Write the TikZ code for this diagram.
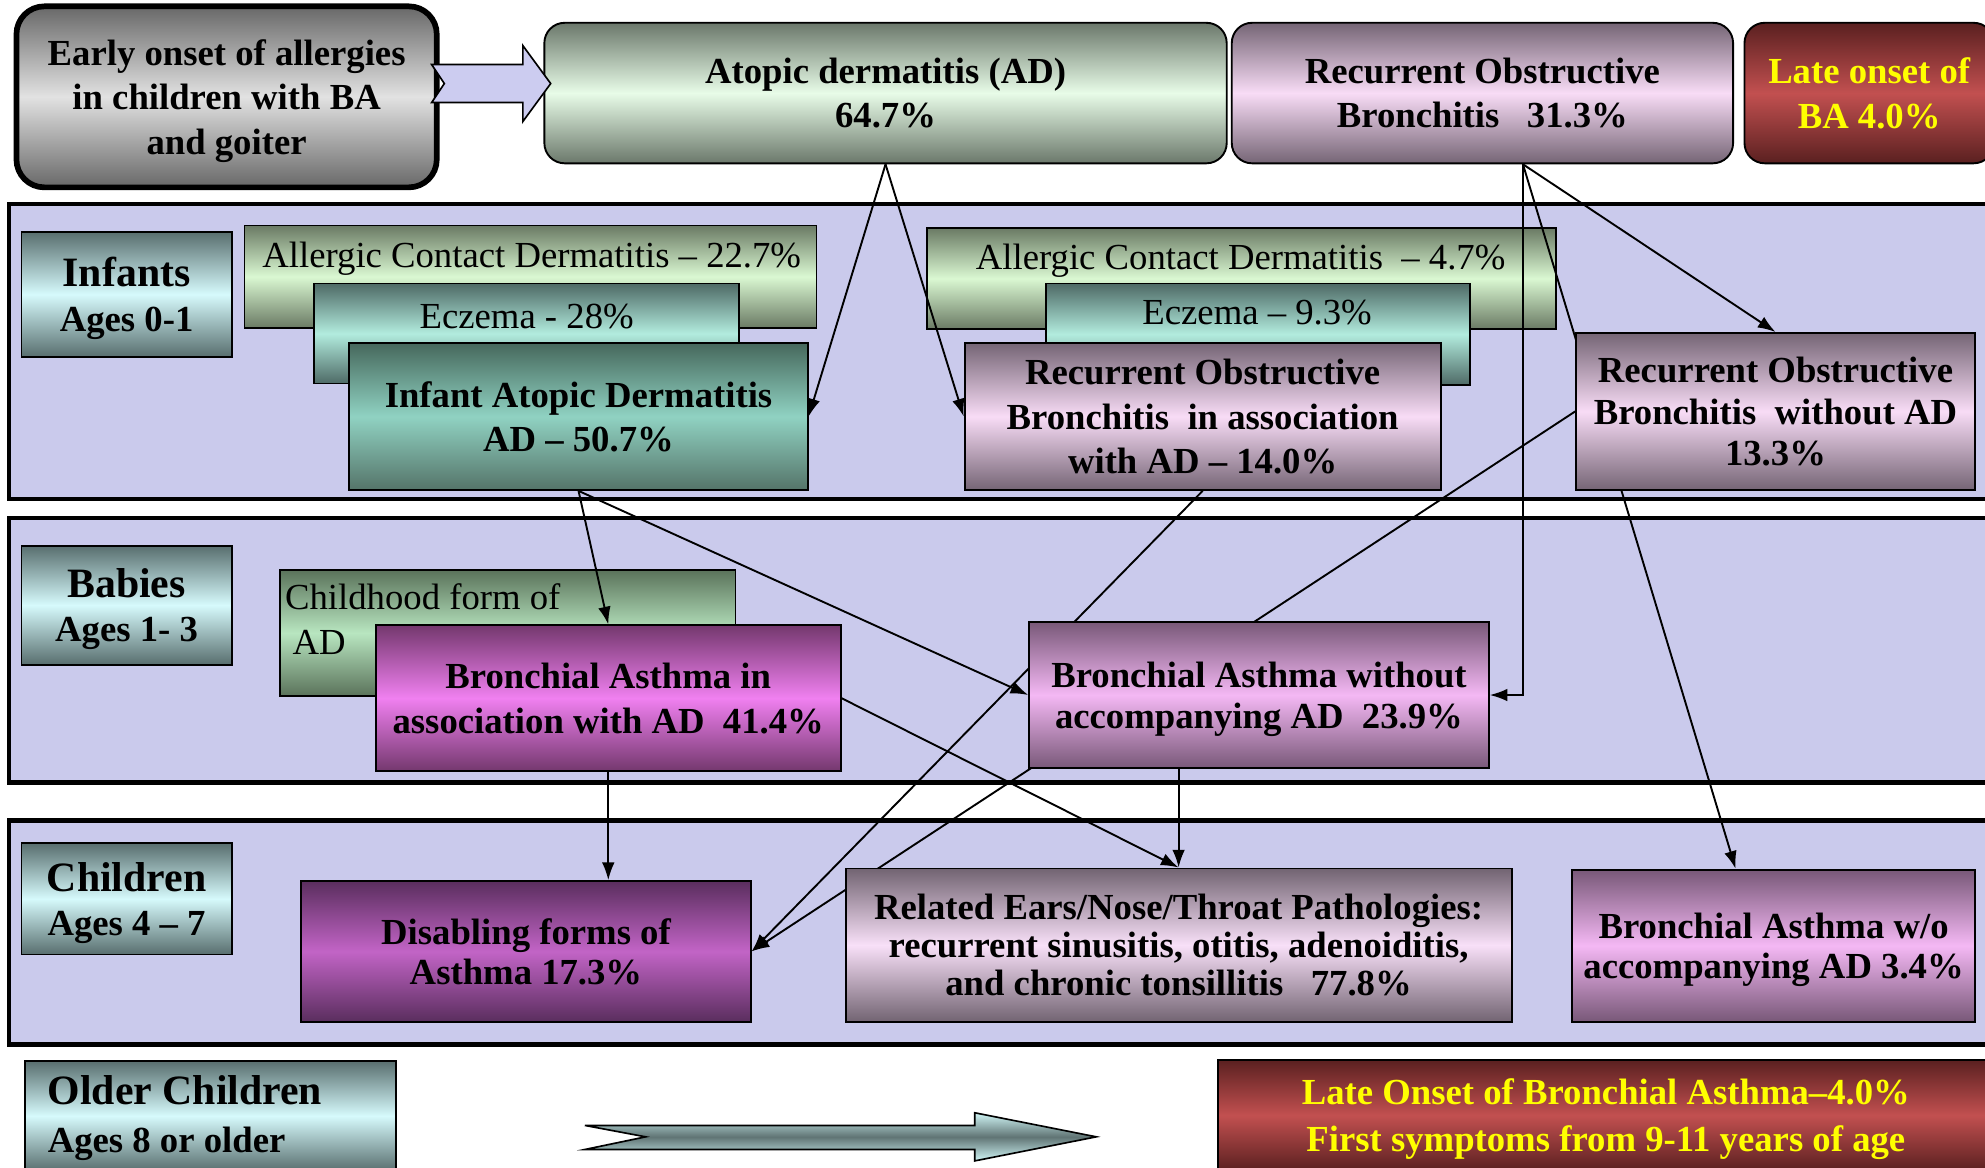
\documentclass[tikz,border=0pt]{standalone}
\usepackage{fontspec}
\setmainfont{Liberation Serif}
\usetikzlibrary{arrows.meta,calc}

% colour pairs: dark edge / light centre of each vertical gradient
\definecolor{bandfill}{HTML}{CACAEC}
\definecolor{hiyellow}{HTML}{FFFF00}
\definecolor{earlyD}{HTML}{686868} \definecolor{earlyL}{HTML}{E2E2E2}
\definecolor{adD}{HTML}{6B786B}    \definecolor{adL}{HTML}{E8FCE8}
\definecolor{robD}{HTML}{756575}   \definecolor{robL}{HTML}{F8DCF6}
\definecolor{redD}{HTML}{5A2020}   \definecolor{redL}{HTML}{C25050}
\definecolor{ageD}{HTML}{586E6E}   \definecolor{ageL}{HTML}{D6FAFC}
\definecolor{acdD}{HTML}{6A7A64}   \definecolor{acdL}{HTML}{DAF8D2}
\definecolor{eczD}{HTML}{4E6A66}   \definecolor{eczL}{HTML}{B2ECDE}
\definecolor{iadD}{HTML}{46685C}   \definecolor{iadL}{HTML}{90D2C2}
\definecolor{chfD}{HTML}{5A725A}   \definecolor{chfL}{HTML}{B8E6C0}
\definecolor{baaD}{HTML}{74386E}   \definecolor{baaL}{HTML}{F080F0}
\definecolor{bawD}{HTML}{785878}   \definecolor{bawL}{HTML}{F4B8F4}
\definecolor{disD}{HTML}{5A2E5E}   \definecolor{disL}{HTML}{C264C6}
\definecolor{entD}{HTML}{726472}   \definecolor{entL}{HTML}{F8E0F8}
\definecolor{arrL}{HTML}{CCCCF0}
\definecolor{tealD}{HTML}{607474}  \definecolor{tealL}{HTML}{D0F6F6}

\pgfdeclarelayer{bandlayer}
\pgfdeclarelayer{underlayer}
\pgfdeclarelayer{linklayer}
\pgfsetlayers{bandlayer,underlayer,linklayer,main}

\tikzset{
  corners/.style args={#1,#2,#3,#4}{anchor=center,
    at={({((#1)+(#3))/2},{((#2)+(#4))/2})},
    minimum width={(#3)-(#1)}, minimum height={(#4)-(#2)}},
  vgrad/.style 2 args={top color=#1, bottom color=#1, middle color=#2},
  % fixed first-line height and no trailing depth: text block sits evenly
  evenblock/.style={text depth=0pt, execute at begin node={\rule{0pt}{25pt}}},
  panel/.style={draw=black, line width=1.5pt, inner sep=0pt, align=center,
    font=\fontsize{29}{35}\selectfont\bfseries, evenblock},
  roundpanel/.style={panel, rounded corners=16pt},
  plainpanel/.style={draw=black, line width=1.3pt, inner sep=0pt},
  agepanel/.style={panel, vgrad={ageD}{ageL}},
  bandbox/.style={fill=bandfill, draw=black, line width=3.5pt},
  plaintext/.style={inner sep=0pt, align=left, font=\fontsize{29}{35}\selectfont},
  link/.style={line width=1.5pt, -{Latex[length=14pt,width=10pt]}},
  blockarrow/.style={draw=black, line width=1.3pt, line join=miter},
}

\begin{document}
\begin{tikzpicture}[x=1pt,y=-1pt]
\useasboundingbox (0,0) rectangle (1568,922);

% ---------- top row ----------
\node[roundpanel, line width=4.5pt, rounded corners=22pt, vgrad={earlyD}{earlyL},
      corners={13,5,345,148}] (early) {Early onset of allergies\\in children with BA\\and goiter};
\node[roundpanel, vgrad={adD}{adL}, corners={430,18,969,129}] (ad) {Atopic dermatitis (AD)\\64.7\%};
\node[roundpanel, vgrad={robD}{robL}, corners={973,18,1369,129}] (robtop) {Recurrent Obstructive\\Bronchitis\ \ \ 31.3\%};
\node[roundpanel, vgrad={redD}{redL}, text=hiyellow, corners={1378,18,1575,129}] (latetop) {Late onset of\\BA 4.0\%};
\path[blockarrow, fill=arrL] (341,51) -- (413,51) -- (413,36) -- (435,66) -- (413,96)
      -- (413,81) -- (341,81) -- (351,66) -- cycle;

% ---------- age bands ----------
\begin{pgfonlayer}{bandlayer}
  \path[bandbox] (7,161) rectangle (1585,394);
  \path[bandbox] (7,409) rectangle (1585,618);
  \path[bandbox] (7,648) rectangle (1585,825);
\end{pgfonlayer}

\node[agepanel, corners={17,183,183,282}] (infants) {{\fontsize{33}{35}\selectfont Infants}\\Ages 0-1};
\node[agepanel, corners={17,431,183,525}] (babies) {{\fontsize{33}{35}\selectfont Babies}\\Ages 1- 3};
\node[agepanel, corners={17,666,183,754}] (children) {{\fontsize{33}{35}\selectfont Children}\\Ages 4 -- 7};
\node[agepanel, corners={20,838,313,925}] (older) {};
\node[panel, draw=none, align=left, anchor=west, text depth=, execute at begin node={},
      font=\fontsize{29}{38}\selectfont\bfseries] (oldertext) at (37,883)
      {{\fontsize{33}{38}\selectfont Older Children}\\Ages 8 or older};

% ---------- secondary panels (beneath the links) ----------
\begin{pgfonlayer}{underlayer}
  \node[plainpanel, vgrad={acdD}{acdL}, corners={193,178,645,259}] (acdA) {};
  \node[plaintext, anchor=center] (acdAtext) at (420,204) {Allergic Contact Dermatitis -- 22.7\%};
  \node[plainpanel, vgrad={eczD}{eczL}, corners={248,224,584,303}] (eczA) {};
  \node[plaintext, anchor=center] (eczAtext) at (416,250) {Eczema - 28\%};
  \node[plainpanel, vgrad={acdD}{acdL}, corners={732,180,1229,260}] (acdB) {};
  \node[plaintext, anchor=center] (acdBtext) at (980,206) {Allergic Contact Dermatitis\ \ -- 4.7\%};
  \node[plainpanel, vgrad={eczD}{eczL}, corners={826,224,1161,304}] (eczB) {};
  \node[plaintext, anchor=center] (eczBtext) at (993,247) {Eczema -- 9.3\%};
  \node[plainpanel, vgrad={chfD}{chfL}, corners={221,450,581,550}] (chf) {};
  \node[plaintext, anchor=west] (chftext) at (225,489) {Childhood form of\\\hspace{6pt}AD};
\end{pgfonlayer}

% ---------- main panels ----------
\node[panel, top color=iadD, bottom color=iadD!92!white, middle color=iadL,
      corners={276,271,638,387}] (iad) {Infant Atopic Dermatitis\\AD -- 50.7\%};
\node[panel, vgrad={robD}{robL}, corners={762,271,1138,387}] (roba)
      {Recurrent Obstructive\\Bronchitis\ \ in association\\with AD -- 14.0\%};
\node[panel, vgrad={robD}{robL}, font=\fontsize{29}{33}\selectfont\bfseries,
      corners={1245,263,1560,387}] (robw) {Recurrent Obstructive\\Bronchitis\ \ without AD\\13.3\%};
\node[panel, vgrad={baaD}{baaL}, corners={297,494,664,609}] (baa)
      {Bronchial Asthma in\\association with AD\ \ 41.4\%};
\node[panel, vgrad={bawD}{bawL}, font=\fontsize{29}{32}\selectfont\bfseries,
      corners={813,491,1176,607}] (baw) {Bronchial Asthma without\\accompanying AD\ \ 23.9\%};
\node[panel, vgrad={disD}{disL}, font=\fontsize{29}{32}\selectfont\bfseries,
      corners={238,696,593,807}] (dis) {Disabling forms of\\Asthma 17.3\%};
\node[panel, vgrad={entD}{entL}, font=\fontsize{29}{30}\selectfont\bfseries,
      text depth=, execute at begin node={},
      corners={668,686,1194,807}] (ent)
      {Related Ears/Nose/Throat Pathologies:\\recurrent sinusitis, otitis, adenoiditis,\\and chronic tonsillitis\ \ \ 77.8\%};
\node[panel, vgrad={bawD}{bawL}, font=\fontsize{29}{32}\selectfont\bfseries,
      corners={1242,687,1560,807}] (bawo) {Bronchial Asthma w/o\\accompanying AD 3.4\%};

% ---------- bottom row ----------
\path[blockarrow, vgrad={tealL}{tealD}] (462,889) -- (770,889) -- (770,879) -- (866,898)
      -- (770,917) -- (770,908) -- (462,908) -- (510,898) -- cycle;
\node[panel, vgrad={redD}{redL}, text=hiyellow, font=\fontsize{29}{37}\selectfont\bfseries,
      corners={962,837,1575,925}] (latebottom)
      {Late Onset of Bronchial Asthma--4.0\%\\First symptoms from 9-11 years of age};

% ---------- links ----------
\begin{pgfonlayer}{linklayer}
  \coordinate (robsrc) at ($(robtop.south)+(32,0)$);
  \coordinate (bawoin) at ($(bawo.north)+(-30,0)$);
  \draw[link] (ad.south) -- (iad.east);
  \draw[link] (ad.south) -- (roba.west);
  \draw[link] (robsrc) -- (robw.north);
  \draw[link] (robsrc) |- (baw.east);
  \draw[link] (robsrc) -- (bawoin);
  \draw[link] (iad.south) -- (baa.north);
  \draw[link] (iad.south) -- (baw.west);
  \draw[link] (baa.south) -- (baa.south |- dis.north);
  \draw[link] (baa.east) -- (ent.north);
  \draw[link] (ent.north |- baw.south) -- (ent.north);
  \draw[link] (roba.south) -- (dis.east);
  \draw[link] (robw.west) -- (dis.east);
\end{pgfonlayer}
\end{tikzpicture}
\end{document}
